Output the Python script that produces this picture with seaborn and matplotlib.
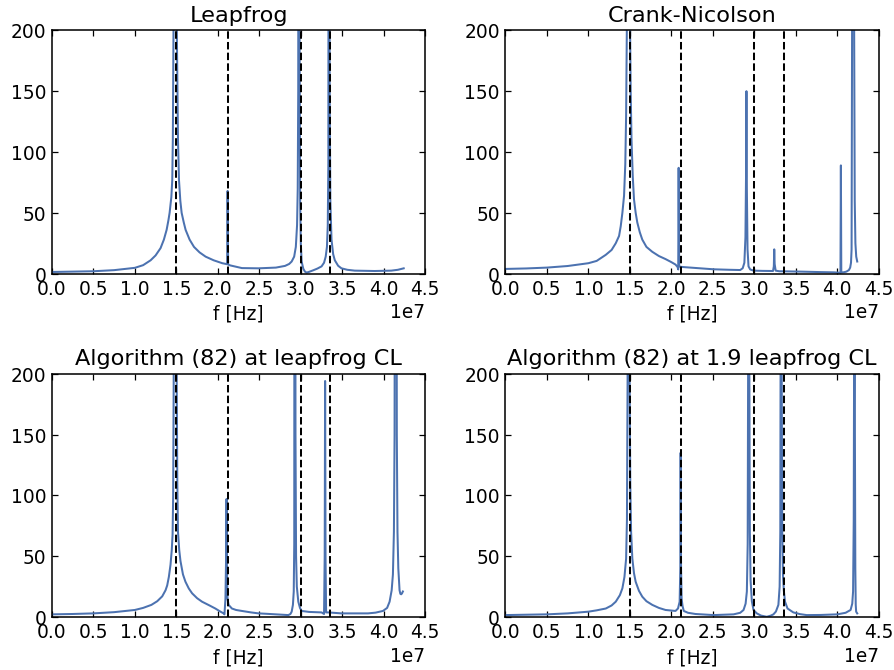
import numpy as np
import seaborn as sns
import matplotlib
matplotlib.use("Agg")
import matplotlib.pyplot as plt

# frequencies in units of 1e7 Hz, amplitudes
lf_f = [0.00, 0.25, 0.50, 0.75, 1.00, 1.10, 1.19, 1.25, 1.31, 1.35, 1.383, 1.405, 1.419, 1.44,
        1.451, 1.458, 1.466, 1.487, 1.506, 1.52, 1.532, 1.548, 1.564, 1.59, 1.612, 1.66, 1.713,
        1.78, 1.853, 1.95, 2.054, 2.112, 2.118, 2.124, 2.15, 2.29, 2.49, 2.70, 2.81, 2.86,
        2.89, 2.92, 2.94, 2.955, 2.963, 2.969, 2.977, 2.985, 2.992, 3.00, 3.01, 3.03, 3.05,
        3.07, 3.10, 3.15, 3.20, 3.25, 3.28, 3.30, 3.315, 3.325, 3.332, 3.34, 3.348, 3.356,
        3.37, 3.39, 3.41, 3.45, 3.49, 3.56, 3.65, 3.89, 4.09, 4.17, 4.24]
lf_amp = [1.4, 1.7, 2.0, 2.9, 4.8, 7, 11, 15, 21, 28, 36, 44, 50, 63,
          77, 110, 200, 1500, 200, 110, 77, 60, 50, 42, 36, 28, 22,
          17.5, 14, 11, 8.6, 7.8, 68, 7.5, 6.8, 4.6, 4.4, 5.0, 6.4, 8,
          10, 14, 22, 40, 70, 150, 900, 200, 60, 25, 10, 4, 1.7,
          0.9, 1.5, 2.8, 4.2, 6, 9, 14, 22, 40, 90, 900, 150, 60,
          28, 16, 11, 6.5, 4.4, 3.2, 2.5, 2.2, 2.5, 3.2, 4.4]

cn_f = [0.00, 0.25, 0.50, 0.75, 1.00, 1.10, 1.21, 1.28, 1.33, 1.37, 1.39, 1.41, 1.43, 1.445,
        1.455, 1.466, 1.482, 1.50, 1.51, 1.52, 1.535, 1.55, 1.57, 1.59, 1.62, 1.65, 1.70,
        1.77, 1.85, 1.93, 2.00, 2.05, 2.075, 2.083, 2.088, 2.094, 2.12, 2.17, 2.29, 2.51,
        2.70, 2.83, 2.86, 2.88, 2.893, 2.90, 2.905, 2.91, 2.918, 2.93, 2.95, 2.99, 3.10,
        3.225, 3.235, 3.24, 3.245, 3.257, 3.30, 3.56, 3.80, 3.96, 4.02, 4.038, 4.043, 4.048,
        4.08, 4.11, 4.14, 4.155, 4.165, 4.172, 4.178, 4.19, 4.203, 4.21, 4.218, 4.228, 4.24]
cn_amp = [3.9, 4.3, 5.0, 6.3, 8.6, 10.5, 15.5, 19.5, 25, 31, 39, 50, 64, 90,
          130, 220, 1200, 220, 150, 110, 80, 61, 50, 42, 34, 28, 22,
          18, 14.5, 12, 9.5, 7.5, 5.5, 3.5, 87, 6, 5.6, 5.3, 4.7, 3.6,
          3.2, 3.0, 4.5, 9, 30, 80, 150, 70, 20, 6, 3.5, 2.5, 2.3,
          2.2, 6, 20, 8, 2.5, 2.0, 1.7, 1.3, 1.1, 0.8, 0.7, 89, 1.0,
          1.2, 1.7, 3, 5, 9, 20, 200, 1000, 200, 60, 25, 14, 10]

a1_f = [0.00, 0.25, 0.50, 0.75, 1.00, 1.10, 1.20, 1.27, 1.33, 1.37, 1.39, 1.41, 1.43, 1.445,
        1.455, 1.462, 1.468, 1.487, 1.505, 1.512, 1.52, 1.535, 1.55, 1.58, 1.61, 1.65, 1.69,
        1.75, 1.81, 1.90, 1.97, 2.03, 2.07, 2.08, 2.092, 2.10, 2.105, 2.11, 2.117, 2.13, 2.17,
        2.22, 2.29, 2.40, 2.49, 2.60, 2.70, 2.80, 2.85, 2.875, 2.89, 2.905, 2.915, 2.921,
        2.928, 2.936, 2.943, 2.952, 2.97, 2.99, 3.01, 3.10, 3.25, 3.28, 3.288, 3.293, 3.298,
        3.305, 3.33, 3.49, 3.81, 3.90, 3.99, 4.04, 4.07, 4.095, 4.11, 4.122, 4.13, 4.145,
        4.157, 4.165, 4.175, 4.19, 4.20, 4.21, 4.22, 4.23]
a1_amp = [2.2, 2.5, 3.0, 4.0, 5.8, 7.5, 10, 13, 17, 22, 26, 33, 43, 55,
          68, 100, 190, 1500, 190, 110, 70, 55, 46, 35, 29, 23.5, 19.5,
          15.5, 12.6, 9.5, 7, 4.5, 3, 2.2, 15, 50, 97, 40, 15, 10, 7,
          5.8, 5, 3.8, 3, 2.6, 2.2, 1.8, 1.6, 2.5, 4.4, 10, 21, 60,
          1000, 150, 50, 25, 12.6, 7.5, 5, 4.2, 3.8, 2.5, 50, 194, 50,
          3.8, 3.8, 3, 3, 3.6, 5, 7.5, 12.6, 22, 35, 70, 150, 1000,
          150, 70, 40, 22, 19, 18.7, 19.5, 21]

a2_f = [0.00, 0.25, 0.50, 0.75, 1.00, 1.10, 1.21, 1.28, 1.33, 1.38, 1.41, 1.435, 1.455,
        1.465, 1.473, 1.485, 1.497, 1.505, 1.515, 1.53, 1.55, 1.57, 1.61, 1.65, 1.70, 1.77,
        1.85, 1.93, 2.05, 2.08, 2.10, 2.108, 2.112, 2.117, 2.124, 2.135, 2.15, 2.20, 2.29,
        2.51, 2.75, 2.83, 2.87, 2.895, 2.91, 2.92, 2.925, 2.932, 2.94, 2.946, 2.955, 2.97,
        2.99, 3.03, 3.08, 3.15, 3.20, 3.23, 3.26, 3.29, 3.305, 3.313, 3.316, 3.322, 3.33,
        3.336, 3.345, 3.355, 3.37, 3.40, 3.47, 3.55, 3.63, 3.80, 4.00, 4.10, 4.16, 4.18,
        4.19, 4.198, 4.202, 4.207, 4.212, 4.217, 4.222, 4.227, 4.24]
a2_amp = [1.6, 1.9, 2.2, 3.0, 4.4, 5.5, 7, 9.5, 12.6, 18, 23.6, 33, 48,
          80, 200, 1500, 200, 110, 70, 48, 36, 29, 21.5, 16.7, 13, 10,
          7.5, 5.8, 5, 7, 12.6, 40, 135, 40, 15, 9, 5, 3.5, 2.5,
          1.6, 2.2, 3.5, 5.8, 11, 21, 60, 200, 1000, 200, 70, 30, 13,
          5.8, 3, 1.2, 0.2, 1.2, 2.2, 4.5, 10, 25, 70, 200, 1000, 200,
          70, 35, 22, 12.6, 7, 3.8, 2.4, 1.6, 1.7, 2.2, 3.5, 5.8, 11,
          21, 80, 200, 1000, 150, 40, 10, 4.4, 3]

# analytic mode frequencies (dashed markers), units of 1e7 Hz
modes = [1.5, 2.121, 3.0, 3.354]

titles = ["Leapfrog", "Crank-Nicolson",
          "Algorithm (82) at leapfrog CL", "Algorithm (82) at 1.9 leapfrog CL"]
series = [(lf_f, lf_amp), (cn_f, cn_amp), (a1_f, a1_amp), (a2_f, a2_amp)]

xticks = [0.0, 0.5, 1.0, 1.5, 2.0, 2.5, 3.0, 3.5, 4.0, 4.5]
yticks = [0, 50, 100, 150, 200]

plt.rcParams.update({
    "font.family": "DejaVu Sans",
    "font.size": 12,
    "axes.titlesize": 14.4,
    "axes.labelsize": 12,
    "xtick.labelsize": 12,
    "ytick.labelsize": 12,
    "xtick.direction": "in",
    "ytick.direction": "in",
    "xtick.top": True,
    "ytick.right": True,
    "xtick.major.size": 4,
    "ytick.major.size": 4,
    "axes.linewidth": 1.0,
    "axes.edgecolor": "black",
})

blue = sns.color_palette("deep")[0]

fig, axes = plt.subplots(2, 2, figsize=(8, 6), dpi=111.75)
fig.subplots_adjust(left=0.058, right=0.983, bottom=0.079, top=0.954,
                    wspace=0.2145, hspace=0.411)

for ax, (f, amp), title in zip(axes.flat, series, titles):
    x = np.array(f) * 1e7
    sns.lineplot(x=x, y=np.array(amp), ax=ax, color=blue, lw=1.3,
                 estimator=None, sort=False)
    for m in modes:
        ax.axvline(m * 1e7, color="black", ls="--", lw=1.3)
    ax.set_xlim(0, 4.5e7)
    ax.set_ylim(0, 200)
    ax.set_xticks([t * 1e7 for t in xticks])
    ax.set_yticks(yticks)
    ax.set_title(title)
    ax.set_xlabel("f [Hz]")
    ax.set_ylabel("")

fig.savefig("out.png", dpi=111.75, facecolor="white")
